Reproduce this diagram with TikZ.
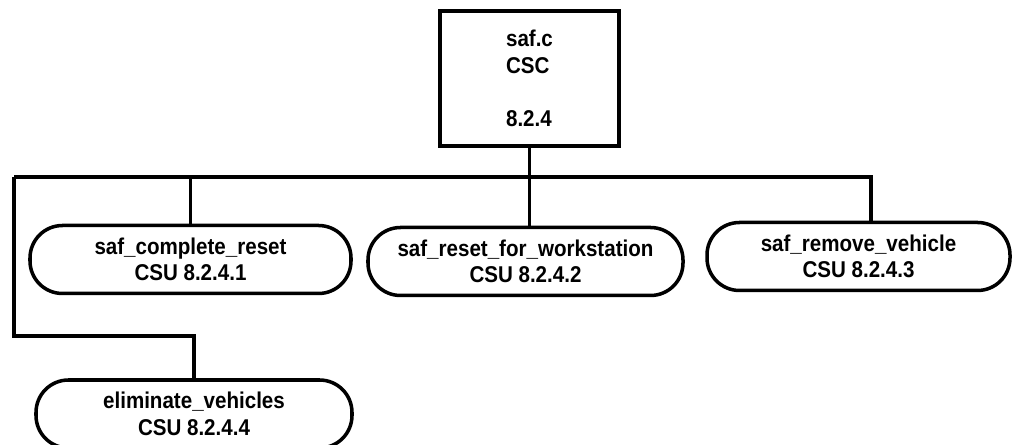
\documentclass[tikz,border=0pt]{standalone}
\usepackage{fontspec}
\setmainfont{Liberation Sans}[FakeStretch=0.9]
\begin{document}
\begin{tikzpicture}[
    cscbox/.style={draw, line width=2pt, minimum width=3.58cm, minimum height=2.7cm, align=left,
        font=\fontsize{13}{15.3}\selectfont\bfseries},
    csubox/.style={draw, line width=2pt, rounded corners=0.65cm, minimum height=1.36cm, align=center,
        font=\fontsize{13}{15}\selectfont\bfseries},
    link/.style={line width=2pt}
]
    \useasboundingbox (0,0) rectangle (20.26,8.9);

    % Draw the CSC box at the top
    \node[cscbox] (safc) at (10.59,7.33) {saf.c\\CSC\\[15.3pt]8.2.4};

    % Draw the CSU boxes
    \node[csubox, minimum width=6.42cm] (complete) at (3.81,3.71) {saf\_complete\_reset\\CSU 8.2.4.1};
    \node[csubox, minimum width=6.3cm] (workstation) at (10.51,3.67) {saf\_reset\_for\_workstation\\CSU 8.2.4.2};
    \node[csubox, minimum width=6.06cm] (remove) at (17.17,3.77) {saf\_remove\_vehicle\\CSU 8.2.4.3};
    \node[csubox, minimum width=6.32cm] (eliminate) at (3.88,0.62) {eliminate\_vehicles\\CSU 8.2.4.4};

    % Draw the bus line and the stems down to the boxes
    \coordinate (bus) at (0.28,5.36);
    \draw[link] (safc.south) -- (safc.south |- workstation.north);
    \draw[link] (bus) -| ([xshift=0.25cm]remove.north);
    \draw[link] (complete.north) -- (complete.north |- bus);

    % Draw the branch down to eliminate_vehicles
    \draw[link] (bus) -- ++(0,-3.18) -| (eliminate.north);
\end{tikzpicture}
\end{document}
